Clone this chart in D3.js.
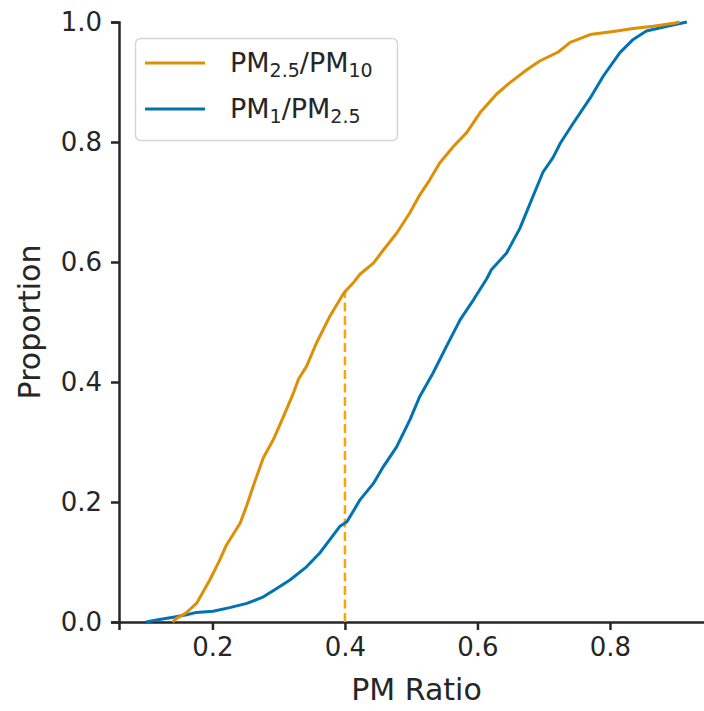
<!DOCTYPE html>
<html>
<head>
<meta charset="utf-8">
<script src="https://cdn.jsdelivr.net/npm/d3@7"></script>
<style>
  body { margin: 0; background: #fff; }
  svg { display: block; overflow: hidden; }
  text { font-family: "DejaVu Sans", sans-serif; fill: #262626; }
</style>
</head>
<body>
<script>
// ECDF curves (ratio, proportion)
const ratioPm25Pm10 = [0.140, 0.146, 0.160, 0.176, 0.196, 0.211, 0.221, 0.242, 0.252, 0.264, 0.277, 0.292, 0.307, 0.322, 0.330, 0.342, 0.357, 0.377, 0.397, 0.402, 0.413, 0.423, 0.443, 0.458, 0.478, 0.498, 0.513, 0.528, 0.543, 0.564, 0.584, 0.604, 0.629, 0.649, 0.674, 0.694, 0.722, 0.740, 0.770, 0.805, 0.835, 0.865, 0.896, 0.905];
const propPm25Pm10 = [0.000, 0.006, 0.015, 0.031, 0.070, 0.103, 0.128, 0.165, 0.195, 0.234, 0.274, 0.304, 0.342, 0.381, 0.405, 0.426, 0.465, 0.509, 0.546, 0.553, 0.566, 0.580, 0.598, 0.620, 0.648, 0.682, 0.712, 0.737, 0.765, 0.793, 0.816, 0.849, 0.880, 0.899, 0.920, 0.935, 0.950, 0.966, 0.979, 0.984, 0.989, 0.993, 0.998, 1.000];

const ratioPm1Pm25 = [0.100, 0.120, 0.141, 0.161, 0.176, 0.201, 0.226, 0.252, 0.277, 0.297, 0.317, 0.342, 0.362, 0.377, 0.392, 0.403, 0.423, 0.443, 0.458, 0.478, 0.498, 0.513, 0.533, 0.553, 0.574, 0.594, 0.614, 0.621, 0.644, 0.664, 0.684, 0.699, 0.714, 0.725, 0.745, 0.770, 0.790, 0.815, 0.835, 0.855, 0.886, 0.916];
const propPm1Pm25 = [0.000, 0.004, 0.008, 0.012, 0.016, 0.018, 0.024, 0.031, 0.042, 0.056, 0.070, 0.092, 0.115, 0.137, 0.159, 0.167, 0.204, 0.231, 0.259, 0.292, 0.337, 0.376, 0.415, 0.459, 0.504, 0.537, 0.572, 0.587, 0.615, 0.656, 0.710, 0.750, 0.774, 0.798, 0.832, 0.873, 0.910, 0.949, 0.971, 0.985, 0.993, 1.000];

const xTicks = [0.2, 0.4, 0.6, 0.8];
const yTicks = [0.0, 0.2, 0.4, 0.6, 0.8, 1.0];
const cutoffRatio = 0.4;
const cutoffProp = 0.553;

const W = 704, H = 711;
const margin = { top: 22, left: 119, bottom: 89 };

const svg = d3.select("body").append("svg")
  .attr("width", W)
  .attr("height", H);

const x = d3.scaleLinear().domain([0.059, 0.957]).range([margin.left, 714]);
const y = d3.scaleLinear().domain([0, 1]).range([H - margin.bottom, margin.top]);

const ink = "#262626";

// axes
const xAxis = svg.append("g")
  .attr("transform", `translate(0,${y(0)})`)
  .call(d3.axisBottom(x).tickValues(xTicks).tickFormat(d3.format(".1f")).tickSizeOuter(0).tickSize(8).tickPadding(8));

const yAxis = svg.append("g")
  .attr("transform", `translate(${x.range()[0]},0)`)
  .call(d3.axisLeft(y).tickValues(yTicks).tickFormat(d3.format(".1f")).tickSizeOuter(0).tickSize(8).tickPadding(9));

[xAxis, yAxis].forEach(g => {
  g.select(".domain").attr("stroke", ink).attr("stroke-width", 2.5);
  g.selectAll(".tick line").attr("stroke", ink).attr("stroke-width", 2.5);
  g.selectAll(".tick text")
    .attr("fill", ink)
    .style("font-family", "DejaVu Sans")
    .style("font-size", "26px");
});

svg.append("text")
  .attr("x", (x.range()[0] + x.range()[1]) / 2)
  .attr("y", 700)
  .attr("text-anchor", "middle")
  .style("font-size", "30px")
  .text("PM Ratio");

svg.append("text")
  .attr("transform", `translate(40,${(y(0) + y(1)) / 2}) rotate(-90)`)
  .attr("text-anchor", "middle")
  .style("font-size", "30px")
  .text("Proportion");

// dashed marker at 0.4
svg.append("line")
  .attr("x1", x(cutoffRatio)).attr("x2", x(cutoffRatio))
  .attr("y1", y(0)).attr("y2", y(cutoffProp))
  .attr("stroke", "#ffa500")
  .attr("stroke-width", 2.5)
  .attr("stroke-dasharray", "9,4.5");

const line = d3.line()
  .x(d => x(d[0]))
  .y(d => y(d[1]));

const series = [
  { ratio: ratioPm1Pm25, prop: propPm1Pm25, color: "#0173b2" },
  { ratio: ratioPm25Pm10, prop: propPm25Pm10, color: "#de8f05" }
];

series.forEach(s => {
  svg.append("path")
    .datum(d3.zip(s.ratio, s.prop))
    .attr("fill", "none")
    .attr("stroke", s.color)
    .attr("stroke-width", 3)
    .attr("stroke-linejoin", "round")
    .attr("d", line);
});

// legend
const legend = svg.append("g");
legend.append("rect")
  .attr("x", 135.5).attr("y", 38.5)
  .attr("width", 262).attr("height", 102)
  .attr("rx", 5)
  .attr("fill", "#fff")
  .attr("fill-opacity", 0.8)
  .attr("stroke", "#d6d6d6")
  .attr("stroke-width", 1.5);

const legendItems = [
  { color: "#de8f05", parts: [["PM", false], ["2.5", true], ["/PM", false], ["10", true]] },
  { color: "#0173b2", parts: [["PM", false], ["1", true], ["/PM", false], ["2.5", true]] }
];

legendItems.forEach((item, i) => {
  const cy = 63 + i * 46;
  legend.append("line")
    .attr("x1", 145).attr("x2", 205)
    .attr("y1", cy).attr("y2", cy)
    .attr("stroke", item.color)
    .attr("stroke-width", 3);
  const t = legend.append("text")
    .attr("x", 230)
    .attr("y", cy + 9)
    .style("font-size", "27px");
  item.parts.forEach(([s, sub], j) => {
    const prev = j > 0 ? item.parts[j - 1][1] : false;
    t.append("tspan")
      .attr("dy", sub ? 5 : (prev ? -5 : 0))
      .style("font-size", sub ? "19px" : "27px")
      .text(s);
  });
});
</script>
</body>
</html>
